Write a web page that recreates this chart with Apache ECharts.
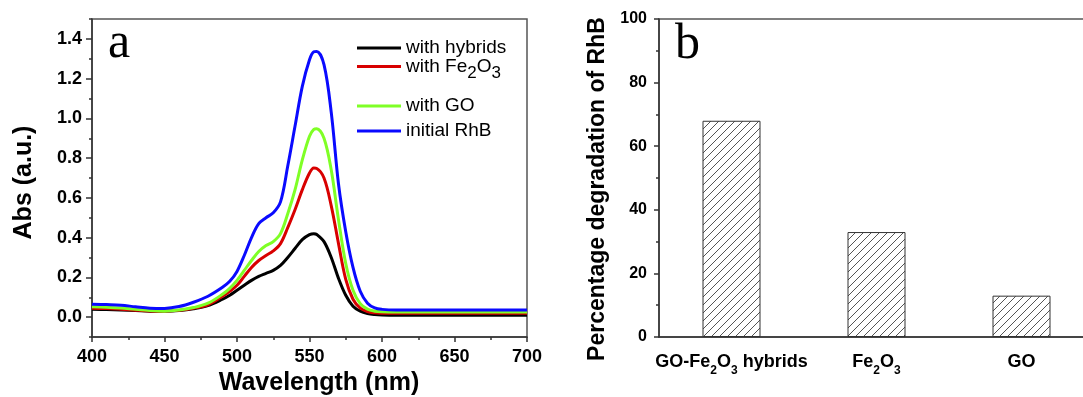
<!DOCTYPE html>
<html><head><meta charset="utf-8">
<script src="https://cdn.jsdelivr.net/npm/echarts@6/dist/echarts.min.js"></script>
<style>html,body{margin:0;padding:0;background:#fff}#c{width:1083px;height:397px}</style>
</head><body><div id="c"></div>
<script>
// ---- Panel (a): UV-vis absorbance spectra ----
const wavelengths = [400,410,420,430,440,450,460,470,480,490,495,500,505,510,515,520,525,530,535,540,545,550,553,555,560,565,570,575,580,585,590,595,600,610,620,640,660,680,700];
const withHybrids = [0.040,0.038,0.036,0.033,0.030,0.030,0.033,0.042,0.058,0.090,0.110,0.135,0.160,0.185,0.205,0.220,0.235,0.260,0.300,0.345,0.390,0.415,0.420,0.416,0.380,0.300,0.195,0.110,0.055,0.030,0.018,0.013,0.011,0.010,0.010,0.010,0.010,0.010,0.010];
const withFe2O3   = [0.045,0.043,0.040,0.035,0.031,0.030,0.034,0.045,0.062,0.105,0.130,0.160,0.205,0.250,0.285,0.310,0.333,0.370,0.450,0.540,0.640,0.725,0.750,0.748,0.700,0.560,0.370,0.190,0.090,0.045,0.028,0.022,0.020,0.019,0.019,0.019,0.019,0.019,0.019];
const withGO      = [0.052,0.050,0.046,0.039,0.033,0.030,0.036,0.048,0.070,0.115,0.145,0.185,0.235,0.285,0.330,0.360,0.380,0.420,0.520,0.640,0.790,0.910,0.945,0.948,0.900,0.740,0.490,0.270,0.135,0.068,0.040,0.030,0.027,0.026,0.026,0.026,0.026,0.026,0.026];
const initialRhB  = [0.065,0.063,0.060,0.052,0.045,0.044,0.053,0.075,0.105,0.150,0.180,0.230,0.310,0.400,0.470,0.500,0.525,0.580,0.760,0.960,1.160,1.295,1.335,1.337,1.270,1.030,0.670,0.430,0.250,0.130,0.070,0.046,0.039,0.036,0.036,0.036,0.036,0.036,0.036];
const seriesNames = ['with hybrids','with Fe2O3','with GO','initial RhB'];
const absTicks = [0.0,0.2,0.4,0.6,0.8,1.0,1.2,1.4];

// ---- Panel (b): percentage degradation ----
const categories = ['GO-Fe2O3 hybrids','Fe2O3','GO'];
const degradation = [68,33,13];

const FONT = 'Liberation Sans';
const AX = '#333';
const lineCols = ['#000000','#d80000','#7fff26','#0a0aff'];

function subRich(prefix){
  return function(v){
    return v.split(/(\d+)/).filter(t=>t.length).map(t=>/^\d+$/.test(t)?'{s|'+t+'}':(prefix?'{'+prefix+'|'+t+'}':t)).join('');
  };
}

// hatch pattern
const pc = document.createElement('canvas'); pc.width=8; pc.height=8;
const g = pc.getContext('2d'); g.fillStyle='#fff'; g.fillRect(0,0,8,8);
g.strokeStyle='#555'; g.lineWidth=1;
g.beginPath(); g.moveTo(-1,9); g.lineTo(9,-1); g.moveTo(-1,1); g.lineTo(1,-1); g.moveTo(7,9); g.lineTo(9,7); g.stroke();

const seriesData = [withHybrids, withFe2O3, withGO, initialRhB];
const legendTops = [38.5, 57, 96.5, 121.5];

const chart = echarts.init(document.getElementById('c'));
const option = {
  animation:false,
  textStyle:{fontFamily:FONT},
  grid:[
    {left:92, top:19, width:435, height:318, show:true, borderColor:'#555', borderWidth:1.5, outerBoundsMode:'none', containLabel:false},
    {left:659, top:19, right:-11, height:318, show:true, borderColor:'#555', borderWidth:1.5, outerBoundsMode:'none', containLabel:false}
  ],
  legend: seriesNames.map((n,i)=>({
    data:[n], left:357, top:legendTops[i], padding:0, itemWidth:44, itemHeight:3, icon:'rect', selectedMode:false,
    formatter: subRich(null),
    textStyle:{fontSize:19, fontFamily:FONT, color:'#000', rich:{s:{fontSize:17, fontFamily:FONT, color:'#000', padding:[14,0,0,0]}}}
  })),
  xAxis:[
    {type:'value', gridIndex:0, min:400, max:700, interval:50,
     name:'Wavelength (nm)', nameLocation:'middle', nameGap:34,
     nameTextStyle:{fontSize:25, fontWeight:'bold', color:'#000', padding:[0,0,0,19]},
     axisLine:{onZero:false, lineStyle:{color:AX, width:1.5}},
     axisTick:{length:5, lineStyle:{color:AX, width:1.5}},
     minorTick:{show:true, splitNumber:2, length:3, lineStyle:{color:AX, width:1.5}},
     axisLabel:{fontSize:18, fontWeight:'bold', color:'#000', margin:11},
     splitLine:{show:false}},
    {type:'category', gridIndex:1, position:'bottom', data:categories,
     axisLine:{onZero:false, lineStyle:{color:AX, width:1.5}},
     axisTick:{alignWithLabel:true, length:6, lineStyle:{color:AX, width:1.5}},
     axisLabel:{interval:0, hideOverlap:false, margin:10, color:'#000', formatter: subRich('m'),
       rich:{m:{fontSize:18, fontWeight:'bold', fontFamily:FONT, color:'#000', lineHeight:30},
             s:{fontSize:12, fontWeight:'bold', fontFamily:FONT, color:'#000', lineHeight:30, padding:[18,0,0,0]}}},
     splitLine:{show:false}},
    {type:'category', gridIndex:1, position:'bottom', data:categories,
     axisLine:{show:false, onZero:false},
     axisTick:{alignWithLabel:false, interval:0, length:3, lineStyle:{color:AX, width:1.5}},
     axisLabel:{show:false}, splitLine:{show:false}}
  ],
  yAxis:[
    {type:'value', gridIndex:0, position:'left', min:-0.1, max:1.5,
     name:'Abs (a.u.)', nameLocation:'middle', nameGap:55,
     nameTextStyle:{fontSize:25, fontWeight:'bold', color:'#000', padding:[0,9,0,0]},
     axisLine:{show:true, onZero:false, lineStyle:{color:AX, width:1.5}},
     axisTick:{show:true, length:6, customValues:absTicks, lineStyle:{color:AX, width:1.5}},
     axisLabel:{fontSize:18, fontWeight:'bold', color:'#000', margin:10, customValues:absTicks, formatter:v=>v.toFixed(1)},
     splitLine:{show:false}},
    {type:'value', gridIndex:0, position:'left', min:-0.1, max:1.5, interval:0.2,
     axisLine:{show:false, onZero:false},
     axisTick:{show:true, length:3, lineStyle:{color:AX, width:1.5}},
     axisLabel:{show:false}, splitLine:{show:false}},
    {type:'value', gridIndex:1, position:'left', min:0, max:100, interval:20,
     name:'Percentage degradation of RhB', nameLocation:'middle', nameGap:50,
     nameTextStyle:{fontSize:23, fontWeight:'bold', color:'#000', padding:[0,22,0,0]},
     axisLine:{show:true, onZero:false, lineStyle:{color:AX, width:1.5}},
     axisTick:{show:true, length:5, lineStyle:{color:AX, width:1.5}},
     minorTick:{show:true, splitNumber:2, length:3, lineStyle:{color:AX, width:1.5}},
     axisLabel:{fontSize:16, fontWeight:'bold', color:'#000', margin:12},
     splitLine:{show:false}}
  ],
  series: seriesNames.map((n,i)=>({
    type:'line', name:n, xAxisIndex:0, yAxisIndex:0, smooth:0.35, symbol:'none',
    lineStyle:{width:3, color:lineCols[i]}, itemStyle:{color:lineCols[i]},
    data: wavelengths.map((w,k)=>[w, seriesData[i][k]])
  })).concat([{
    type:'bar', xAxisIndex:1, yAxisIndex:2, barWidth:58, data:degradation,
    itemStyle:{color:{image:pc, repeat:'repeat'}, borderColor:'#333', borderWidth:1}
  }]),
  graphic:[
    {type:'text', x:108, y:44, style:{text:'a', font:'50px "Liberation Serif"', fill:'#000', verticalAlign:'middle', textVerticalAlign:'middle'}},
    {type:'text', x:675, y:45, style:{text:'b', font:'50px "Liberation Serif"', fill:'#000', verticalAlign:'middle', textVerticalAlign:'middle'}}
  ]
};
chart.setOption(option);
</script></body></html>
